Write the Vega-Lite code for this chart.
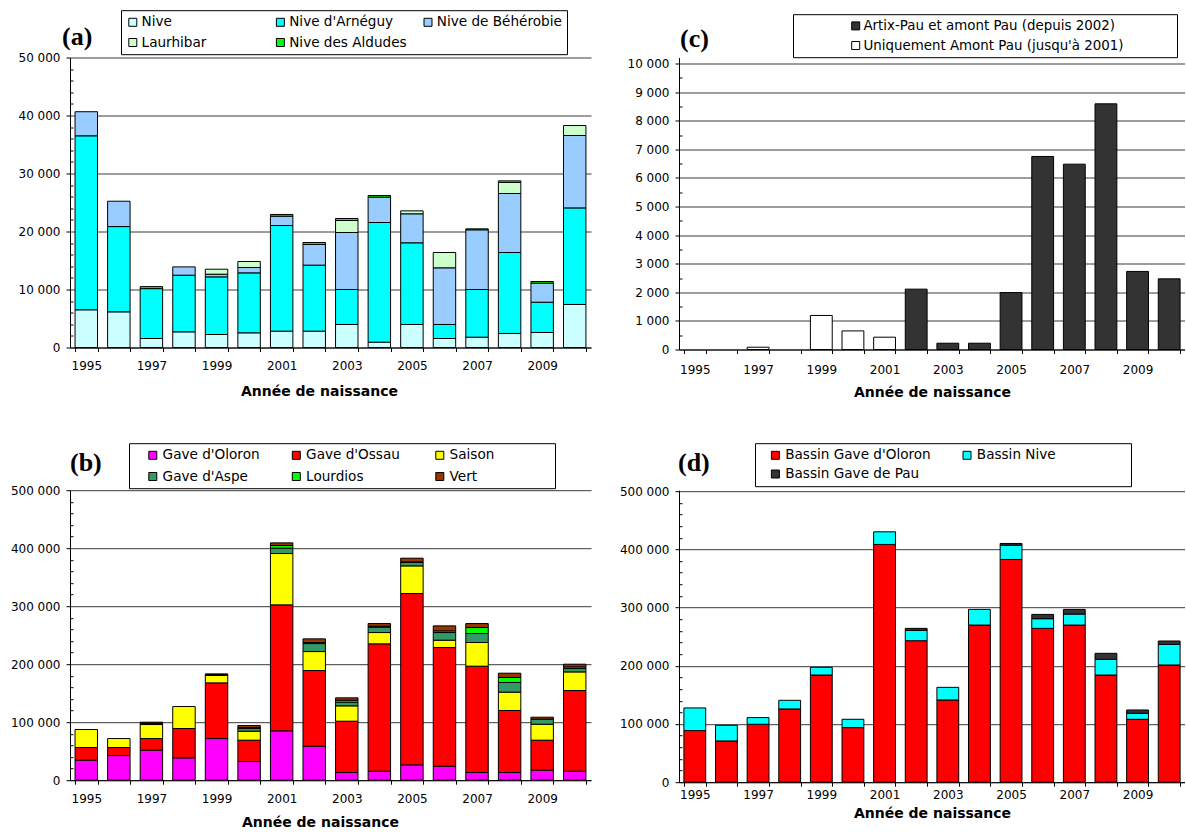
{
  "$schema": "https://vega.github.io/schema/vega-lite/v6.json",
  "padding": {"left": 10, "top": 9.5, "right": 0, "bottom": 0},
  "background": "white",
  "config": {
    "view": {"stroke": null},
    "axis": {
      "domainColor": "black", "domainWidth": 1, "tickColor": "black", "tickWidth": 1,
      "labelColor": "black", "labelFont": "DejaVu Sans", "labelFontSize": 12,
      "titleFont": "DejaVu Sans", "titleFontSize": 14, "titleFontWeight": "bold", "titleColor": "black",
      "gridColor": "#3a3a3a", "gridWidth": 1
    },
    "legend": {
      "orient": "none", "title": null, "symbolType": "square", "symbolSize": 64,
      "symbolStrokeColor": "black", "symbolStrokeWidth": 1, "symbolOpacity": 1,
      "labelFont": "DejaVu Sans", "labelFontSize": 13.6, "labelColor": "black", "labelLimit": 500,
      "strokeColor": "black", "strokeWidth": 1, "fillColor": "white", "padding": 5, "gridAlign": "all"
    }
  },
  "datasets": {
    "a": [
      {"yr":1995,"s":"Nive","i":1,"v":6500},{"yr":1995,"s":"Nive d'Arnéguy","i":2,"v":30000},{"yr":1995,"s":"Nive de Béhérobie","i":3,"v":4150},
      {"yr":1996,"s":"Nive","i":1,"v":6150},{"yr":1996,"s":"Nive d'Arnéguy","i":2,"v":14700},{"yr":1996,"s":"Nive de Béhérobie","i":3,"v":4370},
      {"yr":1997,"s":"Nive","i":1,"v":1550},{"yr":1997,"s":"Nive d'Arnéguy","i":2,"v":8600},{"yr":1997,"s":"Nive des Aldudes","i":5,"v":350},
      {"yr":1998,"s":"Nive","i":1,"v":2700},{"yr":1998,"s":"Nive d'Arnéguy","i":2,"v":9770},{"yr":1998,"s":"Nive de Béhérobie","i":3,"v":1430},
      {"yr":1999,"s":"Nive","i":1,"v":2240},{"yr":1999,"s":"Nive d'Arnéguy","i":2,"v":9940},{"yr":1999,"s":"Nive de Béhérobie","i":3,"v":460},{"yr":1999,"s":"Laurhibar","i":4,"v":860},
      {"yr":2000,"s":"Nive","i":1,"v":2530},{"yr":2000,"s":"Nive d'Arnéguy","i":2,"v":10340},{"yr":2000,"s":"Nive de Béhérobie","i":3,"v":920},{"yr":2000,"s":"Laurhibar","i":4,"v":1040},
      {"yr":2001,"s":"Nive","i":1,"v":2820},{"yr":2001,"s":"Nive d'Arnéguy","i":2,"v":18210},{"yr":2001,"s":"Nive de Béhérobie","i":3,"v":1610},{"yr":2001,"s":"Nive des Aldudes","i":5,"v":300},
      {"yr":2002,"s":"Nive","i":1,"v":2820},{"yr":2002,"s":"Nive d'Arnéguy","i":2,"v":11380},{"yr":2002,"s":"Nive de Béhérobie","i":3,"v":3560},{"yr":2002,"s":"Nive des Aldudes","i":5,"v":340},
      {"yr":2003,"s":"Nive","i":1,"v":3970},{"yr":2003,"s":"Nive d'Arnéguy","i":2,"v":6030},{"yr":2003,"s":"Nive de Béhérobie","i":3,"v":9830},{"yr":2003,"s":"Laurhibar","i":4,"v":2070},{"yr":2003,"s":"Nive des Aldudes","i":5,"v":340},
      {"yr":2004,"s":"Nive","i":1,"v":920},{"yr":2004,"s":"Nive d'Arnéguy","i":2,"v":20630},{"yr":2004,"s":"Nive de Béhérobie","i":3,"v":4370},{"yr":2004,"s":"Nive des Aldudes","i":5,"v":280},
      {"yr":2005,"s":"Nive","i":1,"v":3970},{"yr":2005,"s":"Nive d'Arnéguy","i":2,"v":14080},{"yr":2005,"s":"Nive de Béhérobie","i":3,"v":5000},{"yr":2005,"s":"Laurhibar","i":4,"v":510},
      {"yr":2006,"s":"Nive","i":1,"v":1550},{"yr":2006,"s":"Nive d'Arnéguy","i":2,"v":2420},{"yr":2006,"s":"Nive de Béhérobie","i":3,"v":9770},{"yr":2006,"s":"Laurhibar","i":4,"v":2640},
      {"yr":2007,"s":"Nive","i":1,"v":1780},{"yr":2007,"s":"Nive d'Arnéguy","i":2,"v":8220},{"yr":2007,"s":"Nive de Béhérobie","i":3,"v":10290},{"yr":2007,"s":"Nive des Aldudes","i":5,"v":170},
      {"yr":2008,"s":"Nive","i":1,"v":2420},{"yr":2008,"s":"Nive d'Arnéguy","i":2,"v":13960},{"yr":2008,"s":"Nive de Béhérobie","i":3,"v":10170},{"yr":2008,"s":"Laurhibar","i":4,"v":1900},{"yr":2008,"s":"Nive des Aldudes","i":5,"v":280},
      {"yr":2009,"s":"Nive","i":1,"v":2590},{"yr":2009,"s":"Nive d'Arnéguy","i":2,"v":5220},{"yr":2009,"s":"Nive de Béhérobie","i":3,"v":3280},{"yr":2009,"s":"Nive des Aldudes","i":5,"v":290},
      {"yr":2010,"s":"Nive","i":1,"v":7420},{"yr":2010,"s":"Nive d'Arnéguy","i":2,"v":16650},{"yr":2010,"s":"Nive de Béhérobie","i":3,"v":12480},{"yr":2010,"s":"Laurhibar","i":4,"v":1720}
    ],
    "b": [
      {"yr":1995,"s":"Gave d'Oloron","i":1,"v":34500},{"yr":1995,"s":"Gave d'Ossau","i":2,"v":21800},{"yr":1995,"s":"Saison","i":3,"v":31100},
      {"yr":1996,"s":"Gave d'Oloron","i":1,"v":42500},{"yr":1996,"s":"Gave d'Ossau","i":2,"v":13800},{"yr":1996,"s":"Saison","i":3,"v":15500},
      {"yr":1997,"s":"Gave d'Oloron","i":1,"v":51700},{"yr":1997,"s":"Gave d'Ossau","i":2,"v":20100},{"yr":1997,"s":"Saison","i":3,"v":24200},{"yr":1997,"s":"Gave d'Aspe","i":4,"v":2000},{"yr":1997,"s":"Vert","i":6,"v":2000},
      {"yr":1998,"s":"Gave d'Oloron","i":1,"v":38500},{"yr":1998,"s":"Gave d'Ossau","i":2,"v":50600},{"yr":1998,"s":"Saison","i":3,"v":37900},
      {"yr":1999,"s":"Gave d'Oloron","i":1,"v":71800},{"yr":1999,"s":"Gave d'Ossau","i":2,"v":96000},{"yr":1999,"s":"Saison","i":3,"v":12700},{"yr":1999,"s":"Gave d'Aspe","i":4,"v":1500},{"yr":1999,"s":"Vert","i":6,"v":1300},
      {"yr":2000,"s":"Gave d'Oloron","i":1,"v":32200},{"yr":2000,"s":"Gave d'Ossau","i":2,"v":36800},{"yr":2000,"s":"Saison","i":3,"v":15500},{"yr":2000,"s":"Gave d'Aspe","i":4,"v":4600},{"yr":2000,"s":"Lourdios","i":5,"v":1500},{"yr":2000,"s":"Vert","i":6,"v":3700},
      {"yr":2001,"s":"Gave d'Oloron","i":1,"v":85100},{"yr":2001,"s":"Gave d'Ossau","i":2,"v":217200},{"yr":2001,"s":"Saison","i":3,"v":88500},{"yr":2001,"s":"Gave d'Aspe","i":4,"v":9200},{"yr":2001,"s":"Lourdios","i":5,"v":4600},{"yr":2001,"s":"Vert","i":6,"v":4600},
      {"yr":2002,"s":"Gave d'Oloron","i":1,"v":58600},{"yr":2002,"s":"Gave d'Ossau","i":2,"v":130500},{"yr":2002,"s":"Saison","i":3,"v":32700},{"yr":2002,"s":"Gave d'Aspe","i":4,"v":13800},{"yr":2002,"s":"Lourdios","i":5,"v":1800},{"yr":2002,"s":"Vert","i":6,"v":6300},
      {"yr":2003,"s":"Gave d'Oloron","i":1,"v":13200},{"yr":2003,"s":"Gave d'Ossau","i":2,"v":88500},{"yr":2003,"s":"Saison","i":3,"v":26500},{"yr":2003,"s":"Gave d'Aspe","i":4,"v":6300},{"yr":2003,"s":"Lourdios","i":5,"v":3400},{"yr":2003,"s":"Vert","i":6,"v":4100},
      {"yr":2004,"s":"Gave d'Oloron","i":1,"v":15500},{"yr":2004,"s":"Gave d'Ossau","i":2,"v":219600},{"yr":2004,"s":"Saison","i":3,"v":19500},{"yr":2004,"s":"Gave d'Aspe","i":4,"v":9200},{"yr":2004,"s":"Lourdios","i":5,"v":1700},{"yr":2004,"s":"Vert","i":6,"v":4600},
      {"yr":2005,"s":"Gave d'Oloron","i":1,"v":26400},{"yr":2005,"s":"Gave d'Ossau","i":2,"v":295400},{"yr":2005,"s":"Saison","i":3,"v":47700},{"yr":2005,"s":"Gave d'Aspe","i":4,"v":5800},{"yr":2005,"s":"Lourdios","i":5,"v":1100},{"yr":2005,"s":"Vert","i":6,"v":6400},
      {"yr":2006,"s":"Gave d'Oloron","i":1,"v":24100},{"yr":2006,"s":"Gave d'Ossau","i":2,"v":204600},{"yr":2006,"s":"Saison","i":3,"v":12700},{"yr":2006,"s":"Gave d'Aspe","i":4,"v":13200},{"yr":2006,"s":"Lourdios","i":5,"v":2900},{"yr":2006,"s":"Vert","i":6,"v":8600},
      {"yr":2007,"s":"Gave d'Oloron","i":1,"v":13200},{"yr":2007,"s":"Gave d'Ossau","i":2,"v":183400},{"yr":2007,"s":"Saison","i":3,"v":40800},{"yr":2007,"s":"Gave d'Aspe","i":4,"v":15500},{"yr":2007,"s":"Lourdios","i":5,"v":10300},{"yr":2007,"s":"Vert","i":6,"v":6900},
      {"yr":2008,"s":"Gave d'Oloron","i":1,"v":13200},{"yr":2008,"s":"Gave d'Ossau","i":2,"v":107000},{"yr":2008,"s":"Saison","i":3,"v":31600},{"yr":2008,"s":"Gave d'Aspe","i":4,"v":16700},{"yr":2008,"s":"Lourdios","i":5,"v":8600},{"yr":2008,"s":"Vert","i":6,"v":7400},
      {"yr":2009,"s":"Gave d'Oloron","i":1,"v":17200},{"yr":2009,"s":"Gave d'Ossau","i":2,"v":51800},{"yr":2009,"s":"Saison","i":3,"v":27500},{"yr":2009,"s":"Gave d'Aspe","i":4,"v":8700},{"yr":2009,"s":"Vert","i":6,"v":3400},
      {"yr":2010,"s":"Gave d'Oloron","i":1,"v":15500},{"yr":2010,"s":"Gave d'Ossau","i":2,"v":139100},{"yr":2010,"s":"Saison","i":3,"v":32100},{"yr":2010,"s":"Gave d'Aspe","i":4,"v":5800},{"yr":2010,"s":"Lourdios","i":5,"v":2900},{"yr":2010,"s":"Vert","i":6,"v":4600}
    ],
    "c": [
      {"yr":1997,"s":"Uniquement Amont Pau (jusqu'à 2001)","v":80},
      {"yr":1999,"s":"Uniquement Amont Pau (jusqu'à 2001)","v":1190},
      {"yr":2000,"s":"Uniquement Amont Pau (jusqu'à 2001)","v":650},
      {"yr":2001,"s":"Uniquement Amont Pau (jusqu'à 2001)","v":430},
      {"yr":2002,"s":"Artix-Pau et amont Pau (depuis 2002)","v":2110},
      {"yr":2003,"s":"Artix-Pau et amont Pau (depuis 2002)","v":220},
      {"yr":2004,"s":"Artix-Pau et amont Pau (depuis 2002)","v":220},
      {"yr":2005,"s":"Artix-Pau et amont Pau (depuis 2002)","v":1990},
      {"yr":2006,"s":"Artix-Pau et amont Pau (depuis 2002)","v":6750},
      {"yr":2007,"s":"Artix-Pau et amont Pau (depuis 2002)","v":6480},
      {"yr":2008,"s":"Artix-Pau et amont Pau (depuis 2002)","v":8590},
      {"yr":2009,"s":"Artix-Pau et amont Pau (depuis 2002)","v":2730},
      {"yr":2010,"s":"Artix-Pau et amont Pau (depuis 2002)","v":2470}
    ],
    "d": [
      {"yr":1995,"s":"Bassin Gave d'Oloron","i":1,"v":88700},{"yr":1995,"s":"Bassin Nive","i":2,"v":38900},
      {"yr":1996,"s":"Bassin Gave d'Oloron","i":1,"v":70900},{"yr":1996,"s":"Bassin Nive","i":2,"v":26900},
      {"yr":1997,"s":"Bassin Gave d'Oloron","i":1,"v":99500},{"yr":1997,"s":"Bassin Nive","i":2,"v":11500},
      {"yr":1998,"s":"Bassin Gave d'Oloron","i":1,"v":125900},{"yr":1998,"s":"Bassin Nive","i":2,"v":14800},
      {"yr":1999,"s":"Bassin Gave d'Oloron","i":1,"v":184200},{"yr":1999,"s":"Bassin Nive","i":2,"v":13200},
      {"yr":2000,"s":"Bassin Gave d'Oloron","i":1,"v":93800},{"yr":2000,"s":"Bassin Nive","i":2,"v":14300},
      {"yr":2001,"s":"Bassin Gave d'Oloron","i":1,"v":408500},{"yr":2001,"s":"Bassin Nive","i":2,"v":21700},
      {"yr":2002,"s":"Bassin Gave d'Oloron","i":1,"v":243100},{"yr":2002,"s":"Bassin Nive","i":2,"v":17800},{"yr":2002,"s":"Bassin Gave de Pau","i":3,"v":3400},
      {"yr":2003,"s":"Bassin Gave d'Oloron","i":1,"v":141300},{"yr":2003,"s":"Bassin Nive","i":2,"v":21700},
      {"yr":2004,"s":"Bassin Gave d'Oloron","i":1,"v":270000},{"yr":2004,"s":"Bassin Nive","i":2,"v":26900},
      {"yr":2005,"s":"Bassin Gave d'Oloron","i":1,"v":382700},{"yr":2005,"s":"Bassin Nive","i":2,"v":24600},{"yr":2005,"s":"Bassin Gave de Pau","i":3,"v":2900},
      {"yr":2006,"s":"Bassin Gave d'Oloron","i":1,"v":264300},{"yr":2006,"s":"Bassin Nive","i":2,"v":16600},{"yr":2006,"s":"Bassin Gave de Pau","i":3,"v":7400},
      {"yr":2007,"s":"Bassin Gave d'Oloron","i":1,"v":270000},{"yr":2007,"s":"Bassin Nive","i":2,"v":18900},{"yr":2007,"s":"Bassin Gave de Pau","i":3,"v":8000},
      {"yr":2008,"s":"Bassin Gave d'Oloron","i":1,"v":184200},{"yr":2008,"s":"Bassin Nive","i":2,"v":26900},{"yr":2008,"s":"Bassin Gave de Pau","i":3,"v":10300},
      {"yr":2009,"s":"Bassin Gave d'Oloron","i":1,"v":108100},{"yr":2009,"s":"Bassin Nive","i":2,"v":10300},{"yr":2009,"s":"Bassin Gave de Pau","i":3,"v":5700},
      {"yr":2010,"s":"Bassin Gave d'Oloron","i":1,"v":201400},{"yr":2010,"s":"Bassin Nive","i":2,"v":35400},{"yr":2010,"s":"Bassin Gave de Pau","i":3,"v":5800}
    ]
  },
  "columns": 2,
  "bounds": "flush",
  "spacing": {"row": 140.7, "column": 88},
  "resolve": {"scale": {"color": "independent"}, "legend": {"color": "independent"}},
  "concat": [
    {
      "data": {"name": "a"},
      "width": 521, "height": 290,
      "title": {"text": "(a)", "anchor": "start", "frame": "group", "orient": "top", "baseline": "alphabetic", "offset": -61.5, "dx": -8, "font": "Liberation Serif", "fontSize": 26, "fontWeight": "bold", "color": "black"},
      "mark": {"type": "bar", "stroke": "black", "strokeWidth": 1},
      "encoding": {
        "x": {"field": "yr", "type": "ordinal",
          "scale": {"domain": [1995,1996,1997,1998,1999,2000,2001,2002,2003,2004,2005,2006,2007,2008,2009,2010], "paddingInner": 0.31, "paddingOuter": 0.155},
          "axis": {"title": "Année de naissance", "titleX": 249, "titlePadding": 13, "labelAngle": 0, "tickBand": "extent", "tickSize": 4, "labelPadding": 8.7, "labelOverlap": false, "labelExpr": "datum.value % 2 === 1 ? datum.label : ''"}},
        "y": {"field": "v", "type": "quantitative", "stack": "zero",
          "scale": {"domain": [0, 50000], "nice": false},
          "axis": {"title": null, "values": [0,2000,4000,6000,8000,10000,12000,14000,16000,18000,20000,22000,24000,26000,28000,30000,32000,34000,36000,38000,40000,42000,44000,46000,48000,50000],
            "labelExpr": "datum.value % 10000 === 0 ? replace(format(datum.value, ','), ',', ' ') : ''",
            "tickSize": {"condition": {"test": "datum.value % 10000 === 0", "value": 4}, "value": -3},
            "gridOpacity": {"condition": {"test": "datum.value % 10000 === 0", "value": 1}, "value": 0},
            "labelPadding": 6, "labelOverlap": false}},
        "color": {"field": "s", "type": "nominal",
          "scale": {"domain": ["Nive", "Nive d'Arnéguy", "Nive de Béhérobie", "Laurhibar", "Nive des Aldudes"], "range": ["#CCFFFF", "#00FFFF", "#99CCFF", "#CCFFCC", "#00FF00"]},
          "legend": {"legendX": 51, "legendY": -47.3, "direction": "horizontal", "columns": 3, "columnPadding": 6.6, "rowPadding": 5.5, "labelOffset": 2}},
        "order": {"field": "i", "type": "quantitative"}
      }
    },
    {
      "data": {"name": "c"},
      "width": 506, "height": 292,
      "title": {"text": "(c)", "anchor": "start", "frame": "group", "orient": "top", "baseline": "alphabetic", "offset": -59.2, "dx": 1, "font": "Liberation Serif", "fontSize": 26, "fontWeight": "bold", "color": "black"},
      "mark": {"type": "bar", "stroke": "black", "strokeWidth": 1},
      "encoding": {
        "x": {"field": "yr", "type": "ordinal",
          "scale": {"domain": [1995,1996,1997,1998,1999,2000,2001,2002,2003,2004,2005,2006,2007,2008,2009,2010], "paddingInner": 0.31, "paddingOuter": 0.155},
          "axis": {"title": "Année de naissance", "titlePadding": 10, "labelAngle": 0, "tickBand": "extent", "tickSize": 4, "labelPadding": 11, "labelOverlap": false, "labelExpr": "datum.value % 2 === 1 ? datum.label : ''"}},
        "y": {"field": "v", "type": "quantitative",
          "scale": {"domain": [0, 10210], "nice": false},
          "axis": {"title": null, "values": [0,500,1000,1500,2000,2500,3000,3500,4000,4500,5000,5500,6000,6500,7000,7500,8000,8500,9000,9500,10000],
            "labelExpr": "datum.value % 1000 === 0 ? replace(format(datum.value, ','), ',', ' ') : ''",
            "tickSize": {"condition": {"test": "datum.value % 1000 === 0", "value": 4}, "value": -3},
            "gridOpacity": {"condition": {"test": "datum.value % 1000 === 0", "value": 1}, "value": 0},
            "labelPadding": 6, "labelOverlap": false}},
        "color": {"field": "s", "type": "nominal",
          "scale": {"domain": ["Artix-Pau et amont Pau (depuis 2002)", "Uniquement Amont Pau (jusqu'à 2001)"], "range": ["#333333", "#FFFFFF"]},
          "legend": {"legendX": 114, "legendY": -43.3, "direction": "vertical", "columns": 1, "rowPadding": 4.6, "labelFontSize": 13.4, "symbolOffset": 51, "labelOffset": 1, "title": "\u00a0", "titleOrient": "right", "titlePadding": 48}}
      }
    },
    {
      "data": {"name": "b"},
      "width": 521, "height": 290,
      "title": {"text": "(b)", "anchor": "start", "frame": "group", "orient": "top", "baseline": "alphabetic", "offset": -54.5, "dx": 0, "font": "Liberation Serif", "fontSize": 26, "fontWeight": "bold", "color": "black"},
      "mark": {"type": "bar", "stroke": "black", "strokeWidth": 1},
      "encoding": {
        "x": {"field": "yr", "type": "ordinal",
          "scale": {"domain": [1995,1996,1997,1998,1999,2000,2001,2002,2003,2004,2005,2006,2007,2008,2009,2010], "paddingInner": 0.31, "paddingOuter": 0.155},
          "axis": {"title": "Année de naissance", "titleX": 250, "titlePadding": 11, "labelAngle": 0, "tickBand": "extent", "tickSize": 4, "labelPadding": 9.3, "labelOverlap": false, "labelExpr": "datum.value % 2 === 1 ? datum.label : ''"}},
        "y": {"field": "v", "type": "quantitative", "stack": "zero",
          "scale": {"domain": [0, 500000], "nice": false},
          "axis": {"title": null, "values": [0,20000,40000,60000,80000,100000,120000,140000,160000,180000,200000,220000,240000,260000,280000,300000,320000,340000,360000,380000,400000,420000,440000,460000,480000,500000],
            "labelExpr": "datum.value % 100000 === 0 ? replace(format(datum.value, ','), ',', ' ') : ''",
            "tickSize": {"condition": {"test": "datum.value % 100000 === 0", "value": 4}, "value": -3},
            "gridOpacity": {"condition": {"test": "datum.value % 100000 === 0", "value": 1}, "value": 0},
            "labelPadding": 6, "labelOverlap": false}},
        "color": {"field": "s", "type": "nominal",
          "scale": {"domain": ["Gave d'Oloron", "Gave d'Ossau", "Saison", "Gave d'Aspe", "Lourdios", "Vert"], "range": ["#FF00FF", "#FF0000", "#FFFF00", "#339966", "#00FF00", "#993300"]},
          "legend": {"legendX": 59, "legendY": -47, "direction": "horizontal", "columns": 3, "columnPadding": 17.5, "rowPadding": 6.5, "symbolOffset": 12, "labelOffset": 3, "title": "\u00a0", "titleOrient": "right", "titlePadding": 56}},
        "order": {"field": "i", "type": "quantitative"}
      }
    },
    {
      "data": {"name": "d"},
      "width": 506, "height": 292,
      "title": {"text": "(d)", "anchor": "start", "frame": "group", "orient": "top", "baseline": "alphabetic", "offset": -54.2, "dx": -1, "font": "Liberation Serif", "fontSize": 26, "fontWeight": "bold", "color": "black"},
      "mark": {"type": "bar", "stroke": "black", "strokeWidth": 1},
      "encoding": {
        "x": {"field": "yr", "type": "ordinal",
          "scale": {"domain": [1995,1996,1997,1998,1999,2000,2001,2002,2003,2004,2005,2006,2007,2008,2009,2010], "paddingInner": 0.31, "paddingOuter": 0.155},
          "axis": {"title": "Année de naissance", "titlePadding": 6, "labelAngle": 0, "tickBand": "extent", "tickSize": 4, "labelPadding": 3, "labelOverlap": false, "labelExpr": "datum.value % 2 === 1 ? datum.label : ''"}},
        "y": {"field": "v", "type": "quantitative", "stack": "zero",
          "scale": {"domain": [0, 501700], "nice": false},
          "axis": {"title": null, "values": [0,20000,40000,60000,80000,100000,120000,140000,160000,180000,200000,220000,240000,260000,280000,300000,320000,340000,360000,380000,400000,420000,440000,460000,480000,500000],
            "labelExpr": "datum.value % 100000 === 0 ? replace(format(datum.value, ','), ',', ' ') : ''",
            "tickSize": {"condition": {"test": "datum.value % 100000 === 0", "value": 4}, "value": -3},
            "gridOpacity": {"condition": {"test": "datum.value % 100000 === 0", "value": 1}, "value": 0},
            "labelPadding": 6, "labelOverlap": false}},
        "color": {"field": "s", "type": "nominal",
          "scale": {"domain": ["Bassin Gave d'Oloron", "Bassin Nive", "Bassin Gave de Pau"], "range": ["#FF0000", "#00FFFF", "#333333"]},
          "legend": {"legendX": 76, "legendY": -47, "direction": "horizontal", "columns": 2, "columnPadding": 20.6, "rowPadding": 4, "symbolOffset": 8.6, "labelOffset": 3, "title": "\u00a0", "titleOrient": "right", "titlePadding": 70}},
        "order": {"field": "i", "type": "quantitative"}
      }
    }
  ]
}
